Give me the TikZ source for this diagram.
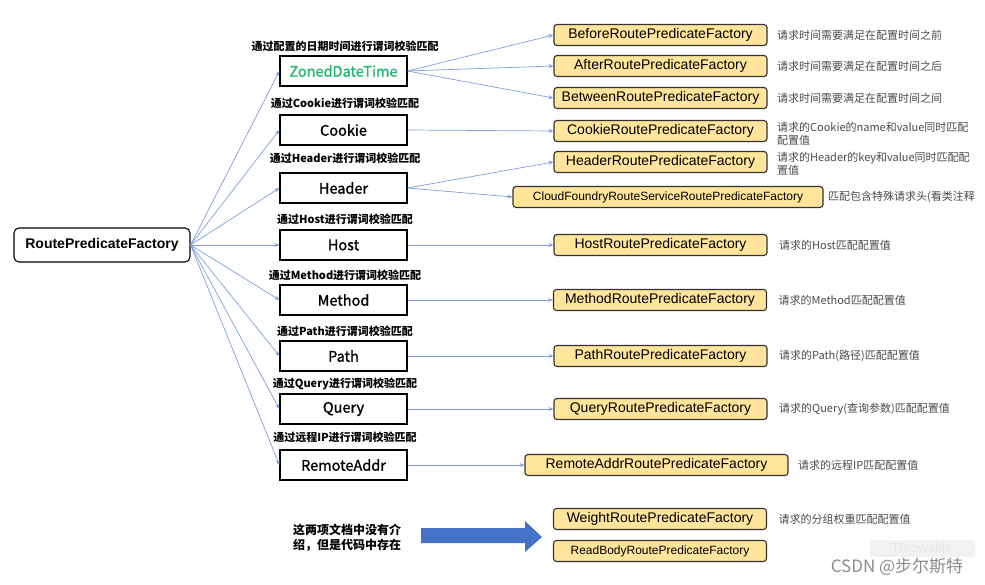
\documentclass[tikz,border=0pt]{standalone}
\usepackage{fontspec}
\setmainfont{Liberation Sans}
\newfontfamily\cjk{Noto Sans CJK SC}
\newfontfamily\cjkmid[FakeBold=1.2]{Noto Sans CJK SC}
\usetikzlibrary{arrows.meta}
\definecolor{linkblue}{HTML}{7F9ED8}
\definecolor{boxyellow}{HTML}{FFE49C}
\definecolor{zonedgreen}{HTML}{22B573}
\definecolor{notegray}{HTML}{4A4A4A}
\definecolor{bigblue}{HTML}{4472C4}

\begin{document}
\begin{tikzpicture}[x=1pt,y=-1pt,>={Stealth[length=5pt,width=4pt]},
  root/.style={draw,line width=1.1pt,rounded corners=5pt,minimum width=176pt,minimum height=34pt,font=\bfseries\fontsize{14}{16}\selectfont},
  kind/.style={draw,line width=1.2pt,minimum width=127pt,minimum height=30pt,font=\cjkmid\fontsize{14.5}{16}\selectfont},
  factory/.style={draw=black!80,line width=1.1pt,fill=boxyellow,rounded corners=3pt,minimum width=213pt,minimum height=21pt,inner sep=2pt,font=\fontsize{14}{16}\selectfont},
  tip/.style={font=\cjk\bfseries\fontsize{11}{13}\selectfont},
  note/.style={anchor=west,align=left,text=notegray,font=\cjk\fontsize{11}{13.5}\selectfont},
  link/.style={->,linkblue,line width=0.7pt}]
\useasboundingbox (0,0) rectangle (985,585);

\node[root] (rpf) at (102,245) {RoutePredicateFactory};

% second column: predicate kinds with their hint above
\foreach \n/\t/\y/\ly/\lab in {
  zdt/{\color{zonedgreen}ZonedDateTime}/71/46/通过配置的日期时间进行谓词校验匹配,
  cookie/Cookie/130/103/通过Cookie进行谓词校验匹配,
  header/Header/188/158/通过Header进行谓词校验匹配,
  host/Host/245/219/通过Host进行谓词校验匹配,
  method/Method/300/275/通过Method进行谓词校验匹配,
  path/Path/356/331/通过Path进行谓词校验匹配,
  query/Query/409/384/通过Query进行谓词校验匹配,
  remote/RemoteAddr/465/437/通过远程IP进行谓词校验匹配}{
  \node[kind] (\n) at (343.5,\y) {\t};
  \node[tip] (\n-tip) at (345,\ly) {\lab};
  \draw[link] (rpf.east) -- (\n.west);
}

% third column: factories
\node[factory] (before) at (660.5,35) {BeforeRoutePredicateFactory};
\node[factory] (after) at (660.5,66) {AfterRoutePredicateFactory};
\node[factory] (between) at (660.5,98) {BetweenRoutePredicateFactory};
\node[factory] (cookierpf) at (660.5,131) {CookieRoutePredicateFactory};
\node[factory] (headerrpf) at (660.5,162) {HeaderRoutePredicateFactory};
\node[factory,minimum width=310pt,font=\fontsize{12}{14}\selectfont] (cloud) at (668,197) {CloudFoundryRouteServiceRoutePredicateFactory};
\node[factory] (hostrpf) at (660.5,245) {HostRoutePredicateFactory};
\node[factory] (methodrpf) at (660,300) {MethodRoutePredicateFactory};
\node[factory] (pathrpf) at (660.5,356) {PathRoutePredicateFactory};
\node[factory] (queryrpf) at (660.5,409) {QueryRoutePredicateFactory};
\node[factory,minimum width=263pt] (remoterpf) at (656.5,465) {RemoteAddrRoutePredicateFactory};
\node[factory] (weight) at (660,519) {WeightRoutePredicateFactory};
\node[factory,font=\fontsize{12}{14}\selectfont] (readbody) at (660,551) {ReadBodyRoutePredicateFactory};

\draw[link] (zdt.east) -- (before.west);
\draw[link] (zdt.east) -- (after.west);
\draw[link] (zdt.east) -- (between.west);
\draw[link] (cookie.east) -- (cookierpf.west);
\draw[link] (header.east) -- (headerrpf.west);
\draw[link] (header.east) -- (cloud.west);
\draw[link] (host.east) -- (hostrpf.west);
\draw[link] (method.east) -- (methodrpf.west);
\draw[link] (path.east) -- (pathrpf.west);
\draw[link] (query.east) -- (queryrpf.west);
\draw[link] (remote.east) -- (remoterpf.west);

% notes on the right
\node[note] (before-n) at ([xshift=6pt]before.east) {请求时间需要满足在配置时间之前};
\node[note] (after-n) at ([xshift=6pt]after.east) {请求时间需要满足在配置时间之后};
\node[note] (between-n) at ([xshift=6pt]between.east) {请求时间需要满足在配置时间之间};
\node[note] (cookie-n) at ([xshift=6pt,yshift=-3pt]cookierpf.east) {请求的Cookie的name和value同时匹配\\配置值};
\node[note] (header-n) at ([xshift=6pt,yshift=-2pt]headerrpf.east) {请求的Header的key和value同时匹配配\\置值};
\node[note] (cloud-n) at ([xshift=1pt]cloud.east) {匹配包含特殊请求头(看类注释};
\node[note] (host-n) at ([xshift=8pt]hostrpf.east) {请求的Host匹配配置值};
\node[note] (method-n) at ([xshift=8pt]methodrpf.east) {请求的Method匹配配置值};
\node[note] (path-n) at ([xshift=8pt]pathrpf.east) {请求的Path(路径)匹配配置值};
\node[note] (query-n) at ([xshift=8pt]queryrpf.east) {请求的Query(查询参数)匹配配置值};
\node[note] (remote-n) at ([xshift=6pt]remoterpf.east) {请求的远程IP匹配配置值};
\node[note] (weight-n) at ([xshift=8pt]weight.east) {请求的分组权重匹配配置值};

% undocumented ones
\node[align=left,font=\cjk\bfseries\fontsize{12}{15}\selectfont] (undoc) at (347,538) {这两项文档中没有介\\绍，但是代码中存在};
\fill[bigblue] (421,528) -- (525,528) -- (525,521) -- (542,537) -- (525,552) -- (525,543) -- (421,543) -- cycle;

% watermark
\fill[black!5] (870,540) rectangle (975,557);
\node[text=black!10,font=\fontsize{13}{15}\selectfont] (throw) at (922,548) {Throwable};
\node[text=black!45,font=\cjk\fontsize{17}{19}\selectfont] (csdn) at (897,567) {CSDN @步尔斯特};
\end{tikzpicture}
\end{document}
